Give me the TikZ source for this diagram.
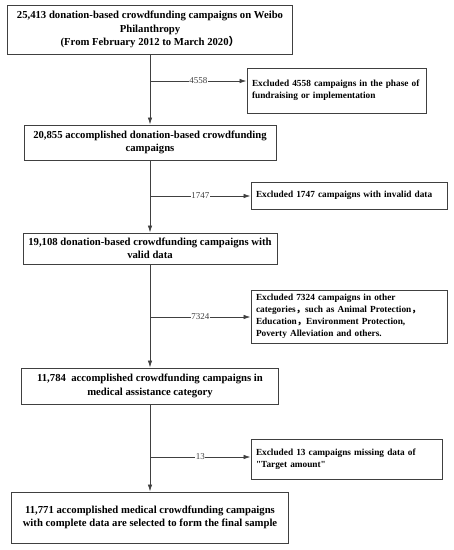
\documentclass[tikz,border=0pt]{standalone}
\usepackage{fontspec}
\setmainfont{Liberation Serif}
\newfontfamily\cjk{Noto Sans CJK SC}
\usetikzlibrary{arrows.meta}
\definecolor{lc}{HTML}{404040}
\begin{document}
\begin{tikzpicture}[x=1pt,y=-1pt,
  mainbox/.style={draw=lc,line width=0.9pt,font=\fontsize{10.7}{13.5}\selectfont\bfseries,align=center,inner sep=0pt},
  exclbox/.style={draw=lc,line width=0.9pt,font=\fontsize{9.3}{12}\selectfont\bfseries,align=left,inner xsep=5pt,inner ysep=0pt,anchor=center},
  conn/.style={draw=lc,line width=0.8pt,-{Latex[length=7pt,width=4.5pt]}},
  lbl/.style={fill=white,font=\fontsize{9}{10}\selectfont,inner sep=0.6pt,text=lc}]
\useasboundingbox (0,0) rectangle (454,550);
\node[mainbox,minimum width=285,minimum height=49] (m1) at (150,29.5)
  {25,413 donation-based crowdfunding campaigns on Weibo\\Philanthropy\\(From February 2012 to March 2020{\cjk ）}};
\node[mainbox,minimum width=252,minimum height=35] (m2) at (150,142.5)
  {20,855 accomplished donation-based crowdfunding\\campaigns};
\node[mainbox,minimum width=254,minimum height=31] (m3) at (150,248.5)
  {19,108 donation-based crowdfunding campaigns with\\valid data};
\node[mainbox,minimum width=257,minimum height=36] (m4) at (150,386)
  {11,784\ \ accomplished crowdfunding campaigns in\\medical assistance category};
\node[mainbox,minimum width=277,minimum height=51] (m5) at (150,517.5)
  {11,771 accomplished medical crowdfunding campaigns\\with complete data are selected to form the final sample};
\node[exclbox,text width=169,minimum height=45] (e1) at (336.5,90.5)
  {Excluded 4558 campaigns in the phase of\\fundraising or implementation};
\node[exclbox,text width=186,minimum height=27] (e2) at (349,195.5)
  {Excluded 1747 campaigns with invalid data};
\node[exclbox,text width=186,minimum height=53] (e3) at (349,316.5)
  {Excluded 7324 campaigns in other\\categories{\cjk ，}such as Animal Protection{\cjk ，}\\Education{\cjk ，}Environment Protection,\\Poverty Alleviation and others.};
\node[exclbox,text width=181,minimum height=40] (e4) at (346.5,459)
  {Excluded 13 campaigns missing data of\\\textquotedbl Target amount\textquotedbl};
\coordinate (b1) at (150,81);
\coordinate (b2) at (150,196);
\coordinate (b3) at (150,317);
\coordinate (b4) at (150,457);
\draw[conn] (m1.south) -- (m2.north);
\draw[conn] (m2.south) -- (m3.north);
\draw[conn] (m3.south) -- (m4.north);
\draw[conn] (m4.south) -- (m5.north);
\draw[conn] (b1) -- node[lbl]{4558} (b1 -| e1.west);
\draw[conn] (b2) -- node[lbl]{1747} (b2 -| e2.west);
\draw[conn] (b3) -- node[lbl]{7324} (b3 -| e3.west);
\draw[conn] (b4) -- node[lbl]{13} (b4 -| e4.west);
\end{tikzpicture}
\end{document}
